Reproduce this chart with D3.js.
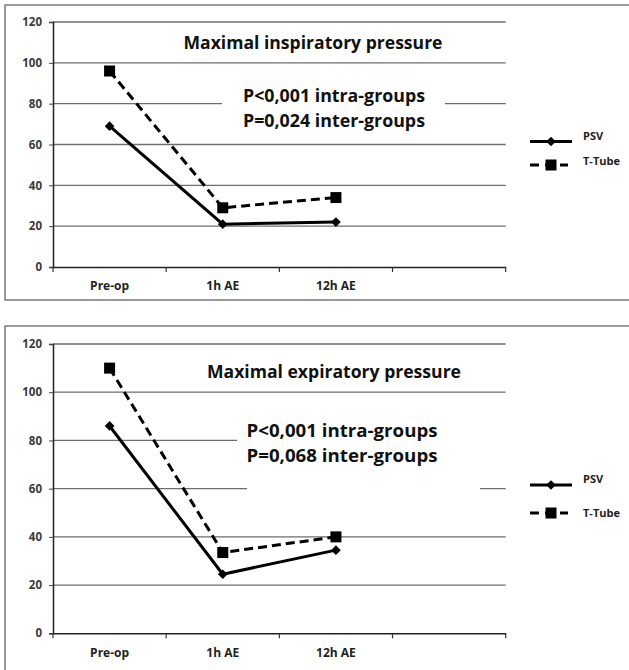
<!DOCTYPE html>
<html><head><meta charset="utf-8">
<script src="https://cdn.jsdelivr.net/npm/d3@7/dist/d3.min.js"></script>
<style>body{margin:0;background:#fff}svg{display:block}text{font-family:"Open Sans",Lato,sans-serif;font-weight:bold}</style>
</head><body>
<script>
const categories = ["Pre-op", "1h AE", "12h AE"];
const axisSlots = ["Pre-op", "1h AE", "12h AE", ""];
const yTicks = [0, 20, 40, 60, 80, 100, 120];
const seriesNames = ["PSV", "T-Tube"];
const mipPSV = [69, 21, 22];
const mipTTube = [96, 29, 34];
const mepPSV = [86, 24.5, 34.5];
const mepTTube = [110, 33.5, 40];
const titles = ["Maximal inspiratory pressure", "Maximal expiratory pressure"];
const notes = [["P<0,001 intra-groups", "P=0,024 inter-groups"], ["P<0,001 intra-groups", "P=0,068 inter-groups"]];

const svg = d3.select("body").append("svg").attr("width", 629).attr("height", 670);

const panels = [
  {frame:[5,5,640,295], y0:267, y1:22, psv:mipPSV, tt:mipTTube, title:titles[0], notes:notes[0],
   titleX:313, titleY:49, titleW:259, noteX:334, noteY:[102,127], noteW:182,
   masks:[[222,95,223,16]], legY:[141.5,165], legLabY:[140,165], catY:290},
  {frame:[5,326,640,360], y0:633.3, y1:344, psv:mepPSV, tt:mepTTube, title:titles[1], notes:notes[1],
   titleX:334, titleY:378, titleW:254, noteX:342, noteY:[437,462], noteW:191,
   masks:[[237,432,270,16],[247,480,233,16]], legY:[485,513], legLabY:[483,517], catY:657}
];

panels.forEach(p => {
  const g = svg.append("g");
  g.append("rect").attr("x", p.frame[0]).attr("y", p.frame[1]).attr("width", p.frame[2]).attr("height", p.frame[3])
    .attr("fill", "#fff").attr("stroke", "#7a7a7a").attr("stroke-width", 1.5);
  const x = d3.scaleBand().domain(axisSlots).range([53, 505.7]);
  const y = d3.scaleLinear().domain([0, 120]).range([p.y0, p.y1]);
  g.append("g").selectAll("line").data(yTicks.filter(t => t > 0)).join("line")
    .attr("x1", 53).attr("x2", 505.7).attr("y1", d => y(d)).attr("y2", d => y(d))
    .attr("stroke", "#6e6e6e").attr("stroke-width", 1.3);
  p.masks.forEach(m => g.append("rect").attr("x", m[0]).attr("y", m[1]).attr("width", m[2]).attr("height", m[3]).attr("fill", "#fff"));
  const ya = g.append("g").attr("transform", "translate(53,0)")
    .call(d3.axisLeft(y).tickValues(yTicks).tickSize(4).tickPadding(7));
  ya.select(".domain").attr("stroke", "#222").attr("stroke-width", 1.5);
  ya.selectAll(".tick line").attr("stroke", "#444");
  ya.selectAll("text").attr("font-size", 11.5).attr("fill", "#3a3a3a").attr("font-family", "Open Sans");
  const xa = g.append("g").attr("transform", `translate(0,${p.y0})`)
    .call(d3.axisBottom(x).tickSize(0).tickPadding(0));
  xa.select(".domain").attr("stroke", "#222").attr("stroke-width", 1.5);
  xa.selectAll("text").attr("font-size", 12).attr("fill", "#222").attr("font-family", "Open Sans").attr("dy", 0).attr("y", p.catY - p.y0);
  const bounds = axisSlots.map(c => x(c)).concat([x.range()[1]]);
  xa.selectAll(".bt").data(bounds).join("line").attr("class", "bt")
    .attr("x1", d => d).attr("x2", d => d).attr("y1", 0).attr("y2", 5).attr("stroke", "#333").attr("stroke-width", 1.2);
  const cx = (d, i) => x(categories[i]) + x.bandwidth() / 2;
  const line = d3.line().x(cx).y(d => y(d));
  g.append("path").datum(p.tt).attr("d", line).attr("fill", "none").attr("stroke", "#000").attr("stroke-width", 3).attr("stroke-dasharray", "9,5");
  g.append("path").datum(p.psv).attr("d", line).attr("fill", "none").attr("stroke", "#000").attr("stroke-width", 3);
  g.append("g").selectAll("path").data(p.psv).join("path")
    .attr("d", d3.symbol(d3.symbolDiamond2, 60)).attr("transform", (d, i) => `translate(${cx(d, i)},${y(d)})`).attr("fill", "#000");
  g.append("g").selectAll("rect").data(p.tt).join("rect")
    .attr("x", (d, i) => cx(d, i) - 5.5).attr("y", d => y(d) - 5.5).attr("width", 11).attr("height", 11).attr("fill", "#000");
  g.append("text").attr("x", p.titleX).attr("y", p.titleY).attr("text-anchor", "middle").attr("font-size", 17)
    .attr("textLength", p.titleW).attr("lengthAdjust", "spacingAndGlyphs").attr("fill", "#111").text(p.title);
  p.notes.forEach((n, i) => g.append("text").attr("x", p.noteX).attr("y", p.noteY[i]).attr("text-anchor", "middle")
    .attr("font-size", 17).attr("textLength", p.noteW).attr("lengthAdjust", "spacingAndGlyphs").attr("fill", "#111").text(n));
  seriesNames.forEach((s, i) => {
    const ly = p.legY[i];
    if (i === 0) {
      g.append("line").attr("x1", 530).attr("x2", 572).attr("y1", ly).attr("y2", ly).attr("stroke", "#000").attr("stroke-width", 3);
      g.append("path").attr("d", d3.symbol(d3.symbolDiamond2, 60)).attr("transform", `translate(551,${ly})`).attr("fill", "#000");
    } else {
      g.append("line").attr("x1", 530).attr("x2", 568).attr("y1", ly).attr("y2", ly).attr("stroke", "#000").attr("stroke-width", 3)
        .attr("stroke-dasharray", "9,6");
      g.append("rect").attr("x", 545.5).attr("y", ly - 5.5).attr("width", 11).attr("height", 11).attr("fill", "#000");
    }
    g.append("text").attr("x", 583).attr("y", p.legLabY[i]).attr("font-size", 11).attr("fill", "#222").text(s);
  });
});
</script>
</body></html>
